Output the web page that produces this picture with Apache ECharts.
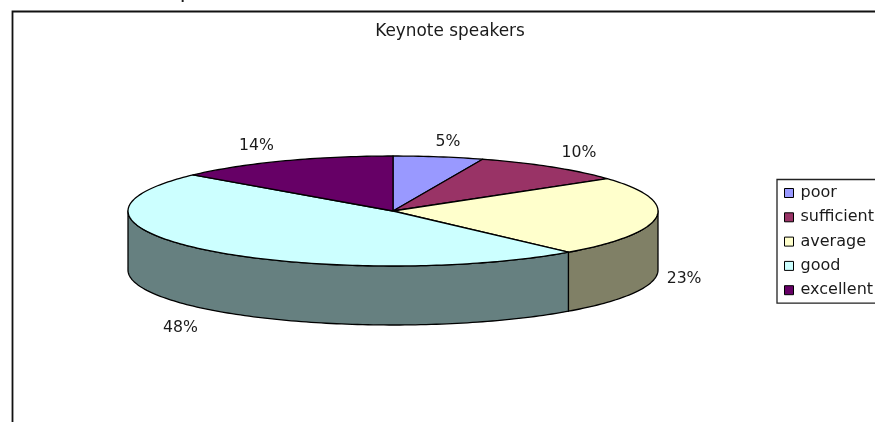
<!DOCTYPE html>
<html><head><meta charset="utf-8">
<style>html,body{margin:0;padding:0;background:#fff}#c{width:875px;height:422px}</style>
<script src="https://cdn.jsdelivr.net/npm/echarts@6/dist/echarts.min.js"></script>
</head><body><div id="c"></div>
<script>
const categories = ['poor','sufficient','average','good','excellent'];
const values = [5.49, 9.5, 23.49, 47.9, 13.6];
const topColors = ['#9999FF','#993366','#FFFFCC','#CCFFFF','#660066'];
const sideColors = ['#666699','#662244','#808066','#668080','#440044'];
const titleText = 'Keynote speakers';
const headerText = 'Number of respondents to';

const cx = 393, cy = 211, rx = 265, ry = 55, depth = 59;
const labelRx = 320, labelRy = 72;
const labelNudge = [[0,2],[-6,0],[-27,1],[13,7],[-4,0]];
const FONT = '"DejaVu Sans", sans-serif';
const total = values.reduce((a,b)=>a+b,0);
const pt = (a,dy=0)=>[cx+rx*Math.sin(a), cy-ry*Math.cos(a)+dy];
function arc(a0,a1,dy){const n=Math.max(2,Math.ceil((a1-a0)/0.02));const r=[];for(let i=0;i<=n;i++)r.push(pt(a0+(a1-a0)*i/n,dy));return r;}

let acc = 0;
const spans = values.map(v=>{const s=[acc/total*2*Math.PI,(acc+v)/total*2*Math.PI];acc+=v;return s;});

function sliceItem(i){
  return function(){
    const [a0,a1]=spans[i];
    const children=[];
    const lo=Math.max(a0,Math.PI/2), hi=Math.min(a1,1.5*Math.PI);
    const style={lineWidth:1.3,stroke:'#000',lineJoin:'round'};
    if(hi>lo){
      const front=arc(lo,hi,0), low=arc(lo,hi,depth).reverse();
      children.push({type:'polygon',shape:{points:front.concat(low)},style:{...style,fill:sideColors[i]}});
    }
    children.push({type:'polygon',shape:{points:[[cx,cy]].concat(arc(a0,a1,0))},style:{...style,fill:topColors[i]}});
    const mid=(a0+a1)/2, c=Math.cos(mid);
    const lx=cx+labelRx*Math.sin(mid)+labelNudge[i][0];
    const ly=cy-labelRy*c+(c<0?depth:0)+labelNudge[i][1];
    children.push({type:'text',style:{x:lx,y:ly,text:Math.round(values[i]/total*100)+'%',align:'center',verticalAlign:'middle',font:'15.7px '+FONT,fill:'#1a1a1a'}});
    return {type:'group',children};
  };
}

const chart = echarts.init(document.getElementById('c'),null,{renderer:'canvas'});
chart.setOption({
  animation:false,
  backgroundColor:'#fff',
  title:[{text:titleText,left:445,top:18,textAlign:'center',textStyle:{fontFamily:FONT,fontSize:16.9,fontWeight:'normal',color:'#1a1a1a'}}],
  graphic:[
    {type:'rect',z:-1,shape:{x:12.5,y:11.5,width:1000,height:600},style:{fill:'#fff',stroke:'#111',lineWidth:1.8}},
    {type:'text',z:5,style:{x:27,y:3,text:headerText,align:'left',verticalAlign:'bottom',font:'21.4px '+FONT,fill:'#1a1a1a'}}
  ],
  legend:{
    orient:'vertical',left:777,top:179.5,padding:[5.5,40,5,7],itemGap:8.3,itemWidth:9,itemHeight:9,icon:'rect',
    borderColor:'#222',borderWidth:1.3,backgroundColor:'#fff',
    textStyle:{fontFamily:FONT,fontSize:16,color:'#1a1a1a',padding:[0,0,0,2]},
    data:categories,selectedMode:false,
    itemStyle:{borderColor:'#000',borderWidth:1}
  },
  series:categories.map((name,i)=>({
    type:'custom',name,coordinateSystem:'none',silent:true,
    itemStyle:{color:topColors[i]},
    data:[values[i]],renderItem:sliceItem(i)
  }))
});
</script></body></html>
